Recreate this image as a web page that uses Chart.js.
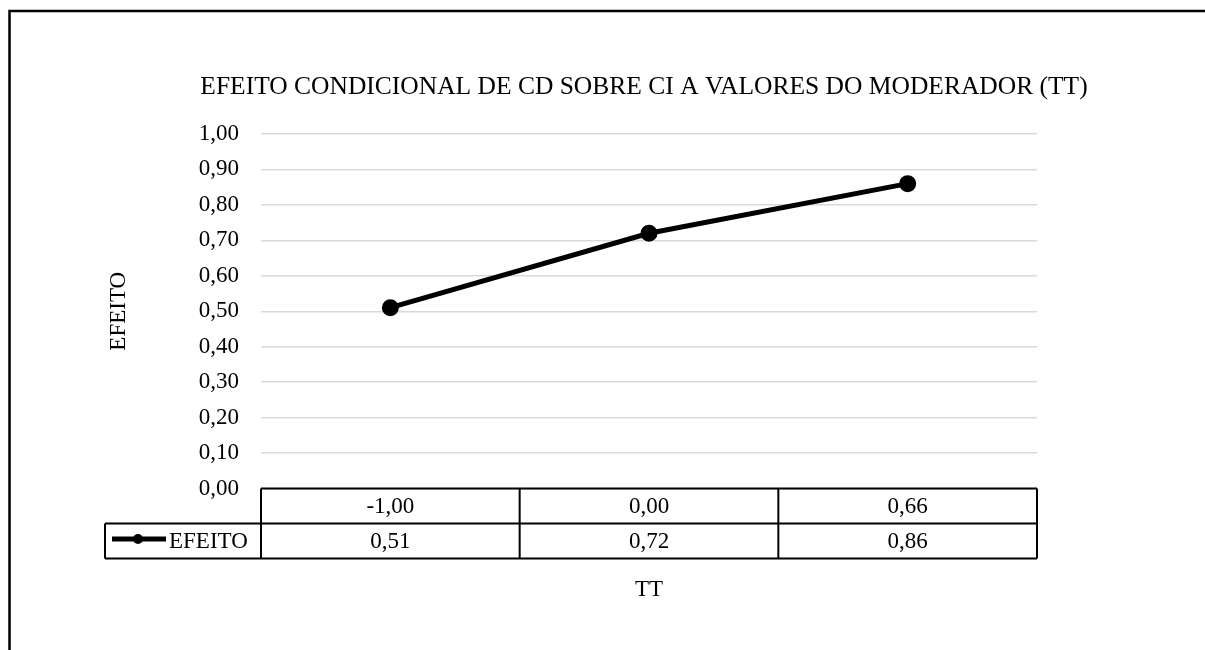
<!DOCTYPE html>
<html>
<head>
<meta charset="UTF-8">
<title>Efeito condicional de CD sobre CI</title>
<script src="https://cdn.jsdelivr.net/npm/chart.js@4.4.0/dist/chart.umd.min.js"></script>
<style>
  html, body { margin: 0; padding: 0; background: #fff; }
  canvas { display: block; }
</style>
</head>
<body>
<canvas id="chart" width="1205" height="650"></canvas>
<script>
// dados
const categories = ['-1,00', '0,00', '0,66'];
const efeito = [0.51, 0.72, 0.86];
const seriesName = 'EFEITO';
const chartTitle = 'EFEITO CONDICIONAL DE CD SOBRE CI A VALORES DO MODERADOR (TT)';
const yTitle = 'EFEITO';
const xTitle = 'TT';

const FONT = "'Liberation Serif', 'Times New Roman', serif";
const SIZE = 23;
const TITLE_SIZE = 25.5;
const fmt = v => v.toFixed(2).replace('.', ',');

// moldura, título e tabela de dados (estilo Excel) abaixo da área do gráfico
const tablePlugin = {
  id: 'dataTable',
  afterDraw(chart) {
    const { ctx, chartArea: ca, scales: { x } } = chart;
    const rowH = 35;
    const top = ca.bottom;
    const n = categories.length;
    const band = (ca.right - ca.left) / n;
    const legendLeft = 105;
    ctx.save();

    // moldura externa
    ctx.strokeStyle = '#000';
    ctx.lineWidth = 2.5;
    ctx.strokeRect(9.5, 11, 1400, 1000);

    // título (mais largo que a área do gráfico, como no Excel)
    ctx.fillStyle = '#000';
    ctx.font = `${TITLE_SIZE}px ${FONT}`;
    ctx.textAlign = 'center';
    ctx.textBaseline = 'middle';
    ctx.fillText(chartTitle, 644, 87);

    ctx.lineWidth = 2;
    ctx.beginPath();
    ctx.moveTo(ca.left, top); ctx.lineTo(ca.right, top);
    ctx.moveTo(legendLeft, top + rowH); ctx.lineTo(ca.right, top + rowH);
    ctx.moveTo(legendLeft, top + 2 * rowH); ctx.lineTo(ca.right, top + 2 * rowH);
    ctx.moveTo(legendLeft, top + rowH); ctx.lineTo(legendLeft, top + 2 * rowH);
    for (let i = 0; i <= n; i++) {
      const px = ca.left + i * band;
      ctx.moveTo(px, top); ctx.lineTo(px, top + 2 * rowH);
    }
    ctx.stroke();

    ctx.font = `${SIZE}px ${FONT}`;
    categories.forEach((c, i) => {
      const px = x.getPixelForValue(i);
      ctx.fillText(c, px, top + rowH / 2 + 1);
      ctx.fillText(fmt(efeito[i]), px, top + rowH * 1.5 + 1);
    });

    // chave da legenda
    const ly = top + rowH * 1.5 - 2;
    ctx.lineWidth = 5;
    ctx.beginPath();
    ctx.moveTo(112, ly); ctx.lineTo(166, ly);
    ctx.stroke();
    ctx.beginPath();
    ctx.arc(138, ly, 5, 0, Math.PI * 2);
    ctx.fill();
    ctx.textAlign = 'left';
    ctx.fillText(seriesName, 169, top + rowH * 1.5 + 1);
    ctx.restore();
  }
};

new Chart(document.getElementById('chart'), {
  type: 'line',
  data: {
    labels: categories,
    datasets: [{
      label: seriesName,
      data: efeito,
      borderColor: '#000',
      borderWidth: 5,
      pointRadius: 6,
      pointBackgroundColor: '#000',
      pointBorderColor: '#000',
      tension: 0,
    }]
  },
  options: {
    responsive: false,
    animation: false,
    layout: { padding: { left: 9, right: 168, top: 134, bottom: 41.5 } },
    plugins: {
      legend: { display: false },
      tooltip: { enabled: false },
      title: { display: false },
    },
    scales: {
      x: {
        offset: true,
        ticks: { display: false },
        grid: { display: false },
        border: { display: false },
        title: {
          display: true,
          text: xTitle,
          color: '#000',
          font: { family: FONT, size: SIZE },
          padding: { top: 0, bottom: 4.7 },
        },
        afterFit: s => { s.height = 120; },
      },
      y: {
        min: 0,
        max: 1,
        ticks: {
          stepSize: 0.1,
          callback: v => fmt(v),
          color: '#000',
          font: { family: FONT, size: SIZE },
          padding: 22,
        },
        grid: { color: '#d9d9d9', lineWidth: 1.5, drawTicks: false },
        border: { display: false },
        title: {
          display: true,
          text: yTitle,
          color: '#000',
          font: { family: FONT, size: SIZE },
          padding: { top: 96.2, bottom: 0 },
        },
        afterFit: s => { s.width = 252; },
      },
    },
  },
  plugins: [tablePlugin],
});
</script>
</body>
</html>
